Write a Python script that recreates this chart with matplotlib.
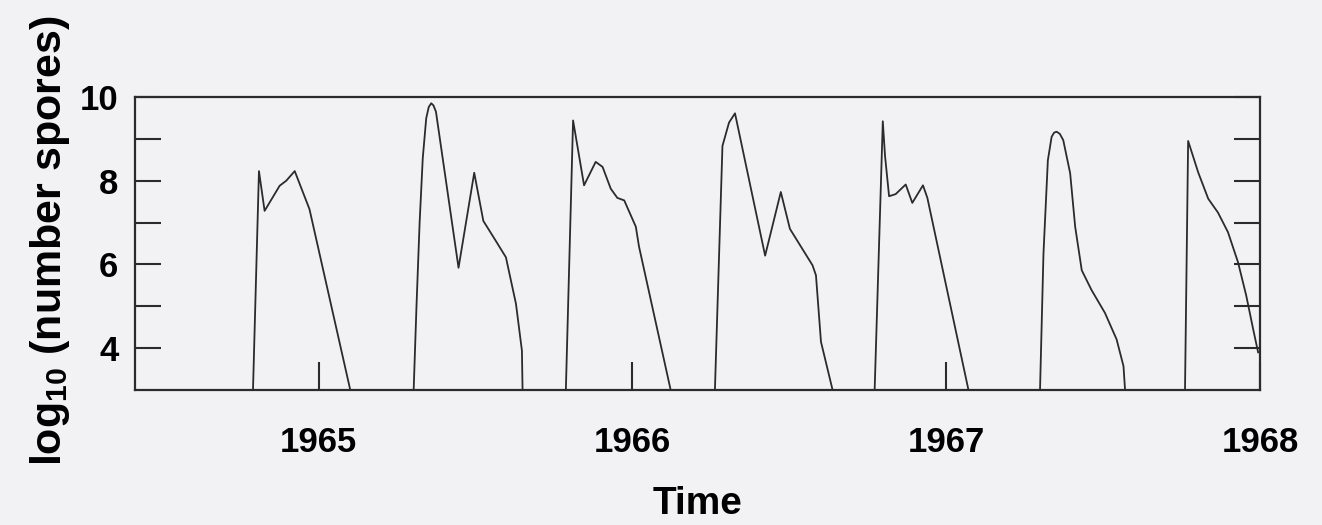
import numpy as np
import matplotlib
matplotlib.use("Agg")
import matplotlib.pyplot as plt

# log10 spore counts, one list pair per season (time in years)
t_aut64 = [1964.791, 1964.810, 1964.828, 1964.876, 1964.897, 1964.924, 1964.971, 1965.101]
y_aut64 = [3.0, 8.23, 7.28, 7.88, 8.00, 8.23, 7.32, 3.0]

t_spr65 = [1965.303, 1965.312, 1965.322, 1965.332, 1965.343, 1965.351, 1965.359, 1965.366,
           1965.374, 1965.446, 1965.496, 1965.525, 1965.565, 1965.597, 1965.629, 1965.648,
           1965.650]
y_spr65 = [3.0, 5.0, 7.0, 8.54, 9.49, 9.76, 9.85, 9.80, 9.65, 5.92, 8.19, 7.04, 6.56, 6.17,
           5.06, 3.94, 3.0]

t_aut65 = [1965.788, 1965.811, 1965.846, 1965.883, 1965.905, 1965.931, 1965.952, 1965.974,
           1966.011, 1966.021, 1966.122]
y_aut65 = [3.0, 9.44, 7.89, 8.45, 8.33, 7.81, 7.59, 7.53, 6.90, 6.43, 3.0]

t_spr66 = [1966.263, 1966.287, 1966.308, 1966.327, 1966.423, 1966.473, 1966.502, 1966.574,
           1966.585, 1966.601, 1966.638]
y_spr66 = [3.0, 8.83, 9.39, 9.61, 6.21, 7.73, 6.85, 5.98, 5.74, 4.15, 3.0]

t_aut66 = [1966.772, 1966.798, 1966.805, 1966.818, 1966.839, 1966.871, 1966.892, 1966.926,
           1966.940, 1967.071]
y_aut66 = [3.0, 9.42, 8.6, 7.63, 7.68, 7.91, 7.47, 7.89, 7.59, 3.0]

t_spr67 = [1967.299, 1967.310, 1967.324, 1967.336, 1967.344, 1967.352, 1967.362, 1967.373,
           1967.395, 1967.411, 1967.432, 1967.463, 1967.506, 1967.543, 1967.565, 1967.570]
y_spr67 = [3.0, 6.26, 8.49, 9.05, 9.15, 9.17, 9.12, 8.97, 8.18, 6.90, 5.86, 5.39, 4.84, 4.21,
           3.57, 3.0]

t_aut67 = [1967.761, 1967.771, 1967.803, 1967.835, 1967.866, 1967.898, 1967.930, 1967.956,
           1967.978, 1967.994]
y_aut67 = [3.0, 8.95, 8.20, 7.57, 7.24, 6.77, 6.05, 5.26, 4.46, 3.90]

year_ticks = [1965, 1966, 1967, 1968]
year_labels = ["1965", "1966", "1967", "1968"]
y_major = [4, 6, 8, 10]
y_minor = [5, 7, 9]

plt.rcParams['font.family'] = ['Liberation Sans', 'DejaVu Sans']
plt.rcParams['font.weight'] = 'bold'
plt.rcParams['mathtext.fontset'] = 'custom'
plt.rcParams['mathtext.rm'] = 'Liberation Sans:bold'
plt.rcParams['mathtext.bf'] = 'Liberation Sans:bold'

bg = '#f2f1f4'
ink = '#2b2b2b'

fig = plt.figure(figsize=(13.22, 5.25), dpi=100, facecolor=bg)
ax = fig.add_axes([135 / 1322, 1 - 390 / 525, 1125 / 1322, 293 / 525])
ax.set_facecolor(bg)

seasons = [(t_aut64, y_aut64), (t_spr65, y_spr65), (t_aut65, y_aut65), (t_spr66, y_spr66),
           (t_aut66, y_aut66), (t_spr67, y_spr67), (t_aut67, y_aut67)]
for t, y in seasons:
    ax.plot(t, y, color=ink, lw=1.3, solid_joinstyle='round')

ax.set_xlim(1964.415, 1968.0)
ax.set_ylim(3, 10)

ax.set_xticks(year_ticks)
ax.set_xticklabels(year_labels)
ax.set_yticks(y_major)
ax.set_yticks(y_minor, minor=True)
ax.set_yticklabels([str(v) for v in y_major])

for s in ax.spines.values():
    s.set_linewidth(1.6)
    s.set_color(ink)

ax.tick_params(axis='y', which='both', direction='in', length=19, width=1.5,
               left=True, right=True, color=ink, labelsize=25, pad=12)
ax.tick_params(axis='x', direction='in', length=20, width=1.5, top=False,
               color=ink, labelsize=25, pad=26)

ax.set_xlabel('Time', fontsize=28, fontweight='bold', labelpad=19)
ax.set_ylabel(r'log$_{\mathbf{10}}$ (number spores)', fontsize=31, fontweight='bold')
ax.yaxis.set_label_coords(-0.056, 0.51)

fig.savefig('out.png', dpi=100, facecolor=bg)
